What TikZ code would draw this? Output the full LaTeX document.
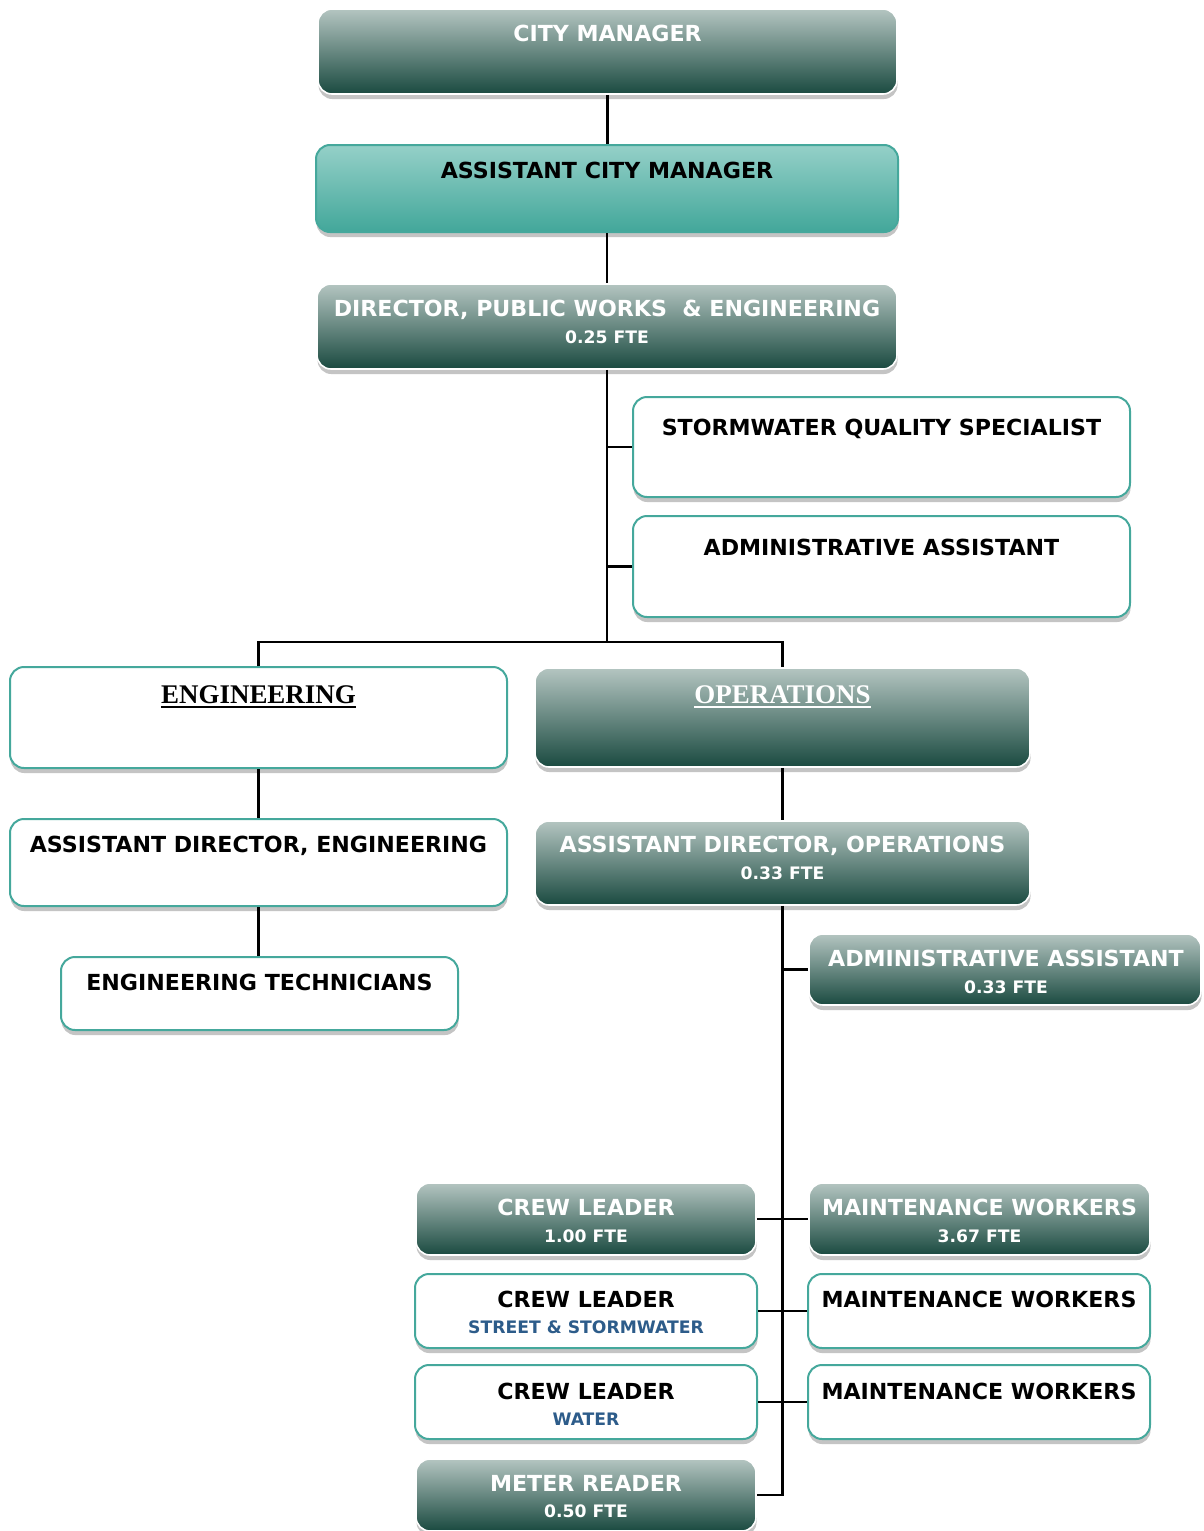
\documentclass[tikz,border=0pt]{standalone}
\usepackage{fontspec}
\setmainfont{DejaVu Sans}
\newfontfamily\headserif{Liberation Serif}
\usetikzlibrary{shadows}
\definecolor{dtop}{HTML}{B4C5C1}
\definecolor{dbot}{HTML}{1A4A40}
\definecolor{ttop}{HTML}{95D0C8}
\definecolor{tbot}{HTML}{42A79A}
\definecolor{tealline}{HTML}{45A89C}
\definecolor{bluetxt}{HTML}{2D5C8A}
\definecolor{shadowc}{HTML}{C4C4C4}
\begin{document}
\begin{tikzpicture}[x=0.75pt,y=-0.75pt,
 boxbase/.style={rounded corners=10.5pt, inner sep=0pt, drop shadow={shadow xshift=0.4pt, shadow yshift=-3.8pt, fill=shadowc, opacity=1}},
 darkbox/.style={boxbase, top color=dtop, bottom color=dbot, draw=white, line width=1.2pt},
 tealbox/.style={boxbase, top color=ttop, bottom color=tbot, draw=tealline, line width=1.5pt},
 whitebox/.style={boxbase, fill=white, draw=tealline, line width=1.5pt},
 sz/.style 2 args={minimum width=#1*0.75pt, minimum height=#2*0.75pt},
 ta/.style={anchor=base, inner sep=0pt, font=\fontsize{16.6}{20}\selectfont\bfseries},
 tb/.style={anchor=base, inner sep=0pt, font=\fontsize{12.9}{15}\selectfont\bfseries},
 hd/.style={anchor=base, inner sep=0pt, font=\headserif\fontsize{20.2}{23}\selectfont\bfseries},
 wt/.style={text=white},
 link/.style={draw=black, line width=1.7pt}
]
\useasboundingbox (0,0) rectangle (1203,1531);
\fill[white] (0,0) rectangle (1203,1531);

% top chain
\node[darkbox, sz={579}{85}] (cm) at (607.5,51.5) {};
\node[ta, wt] (cmt) at (607.5,41) {CITY MANAGER};
\node[tealbox, sz={582}{87}] (acm) at (607,188.5) {};
\node[ta] (acmt) at (607,178) {ASSISTANT CITY MANAGER};
\node[darkbox, sz={580}{85}] (dir) at (607,326.5) {};
\node[ta, wt] (dirt) at (607,316) {DIRECTOR, PUBLIC WORKS\ \ \& ENGINEERING};
\node[tb, wt] (dirf) at (607,343) {0.25 FTE};

% staff
\node[whitebox, sz={497}{100}] (sqs) at (881.5,447) {};
\node[ta] (sqst) at (881.5,435) {STORMWATER QUALITY SPECIALIST};
\node[whitebox, sz={497}{101}] (aa) at (881.5,566.5) {};
\node[ta] (aat) at (881.5,555) {ADMINISTRATIVE ASSISTANT};

% divisions
\node[whitebox, sz={497}{101}] (eng) at (258.5,717.5) {};
\node[hd] (engt) at (258.5,703.5) {ENGINEERING};
\draw[line width=1.5pt] ([yshift=-2.4pt]engt.base west) -- ([yshift=-2.4pt]engt.base east);
\node[darkbox, sz={495}{99}] (ops) at (782.5,717.5) {};
\node[hd, wt] (opst) at (782.5,703.5) {OPERATIONS};
\draw[line width=1.5pt, white] ([yshift=-2.4pt]opst.base west) -- ([yshift=-2.4pt]opst.base east);

% engineering
\node[whitebox, sz={497}{87}] (ade) at (258.5,862.5) {};
\node[ta] (adet) at (258.5,852) {ASSISTANT DIRECTOR, ENGINEERING};
\node[whitebox, sz={397}{73}] (et) at (259.5,993.5) {};
\node[ta] (ett) at (259.5,990) {ENGINEERING TECHNICIANS};

% operations
\node[darkbox, sz={495}{84}] (ado) at (782.5,863) {};
\node[ta, wt] (ado1) at (782.5,852) {ASSISTANT DIRECTOR, OPERATIONS};
\node[tb, wt] (ado2) at (782.5,879) {0.33 FTE};
\node[darkbox, sz={392}{71}] (aao) at (1005,969.5) {};
\node[ta, wt] (aao1) at (1006,966) {ADMINISTRATIVE ASSISTANT};
\node[tb, wt] (aao2) at (1006,993) {0.33 FTE};

\node[darkbox, sz={340}{72}] (cl1) at (586,1219) {};
\node[ta, wt] (cl1a) at (586,1215) {CREW LEADER};
\node[tb, wt] (cl1b) at (586,1242) {1.00 FTE};
\node[darkbox, sz={341}{72}] (mw1) at (979.5,1219) {};
\node[ta, wt] (mw1a) at (979.5,1215) {MAINTENANCE WORKERS};
\node[tb, wt] (mw1b) at (979.5,1242) {3.67 FTE};

\node[whitebox, sz={342}{74}] (cl2) at (586,1311) {};
\node[ta] (cl2a) at (586,1307) {CREW LEADER};
\node[tb, text=bluetxt] (cl2b) at (586,1333) {STREET \& STORMWATER};
\node[whitebox, sz={342}{74}] (mw2) at (979,1311) {};
\node[ta] (mw2a) at (979,1307) {MAINTENANCE WORKERS};

\node[whitebox, sz={342}{74}] (cl3) at (586,1402) {};
\node[ta] (cl3a) at (586,1399) {CREW LEADER};
\node[tb, text=bluetxt] (cl3b) at (586,1425) {WATER};
\node[whitebox, sz={342}{74}] (mw3) at (979,1402) {};
\node[ta] (mw3a) at (979,1399) {MAINTENANCE WORKERS};

\node[darkbox, sz={340}{72}] (mr) at (586,1495) {};
\node[ta, wt] (mra) at (586,1491) {METER READER};
\node[tb, wt] (mrb) at (586,1517) {0.50 FTE};

% connectors
\coordinate (bus) at (607.5,642);
\draw[link] (cm.south) -- (cm.south |- acm.north);
\draw[link] (acm.south) -- (acm.south |- dir.north);
\draw[link] (dir.south) -- (dir.south |- bus);
\draw[link] (dir.south |- sqs.west) -- (sqs.west);
\draw[link] (dir.south |- aa.west) -- (aa.west);
\draw[link] (eng.north) |- (bus) -| (ops.north);
\draw[link] (eng.south) -- (ade.north);
\draw[link] (ade.south) -- (ade.south |- et.north);
\draw[link] (ops.south) -- (ado.north);
\draw[link] (ado.south) |- (mr.east);
\draw[link] (ado.south |- aao.west) -- (aao.west);
\draw[link] (cl1.east) -- (mw1.west);
\draw[link] (cl2.east) -- (mw2.west);
\draw[link] (cl3.east) -- (mw3.west);
\end{tikzpicture}
\end{document}
